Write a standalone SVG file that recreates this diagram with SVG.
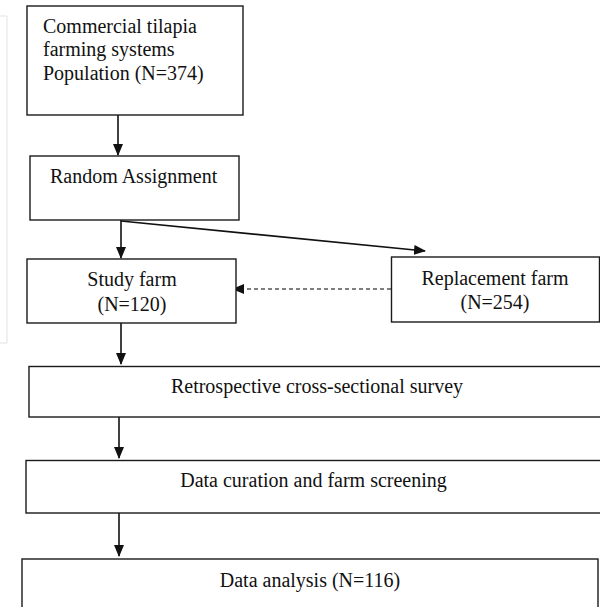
<svg xmlns="http://www.w3.org/2000/svg" width="600" height="607" viewBox="0 0 600 607">
<style>
.box{fill:#fff;stroke:#1a1a1a;stroke-width:1.4}
.t{font-family:"Liberation Serif","Times New Roman",serif;font-size:20px;fill:#111}
.c{text-anchor:middle}
.ln{stroke:#111;stroke-width:1.6;fill:none}
.dash{stroke:#555;stroke-width:1.6;stroke-dasharray:4 3;fill:none}
</style>
<defs>
<marker id="ah" markerWidth="12" markerHeight="10" refX="11" refY="5" orient="auto" markerUnits="userSpaceOnUse">
<path d="M0,0 L12,5 L0,10 Z" fill="#111"/>
</marker>
</defs>
<rect width="600" height="607" fill="#fff"/>
<path d="M0,16 H7 V343 H0" fill="none" stroke="#e2e2e2" stroke-width="1"/>
<g id="connectors">
<line class="ln" x1="118" y1="115" x2="118" y2="155" marker-end="url(#ah)"/>
<line class="ln" x1="121" y1="220" x2="121" y2="258" marker-end="url(#ah)"/>
<line class="ln" x1="121" y1="221" x2="425" y2="251" marker-end="url(#ah)"/>
<line class="dash" x1="391" y1="289" x2="233" y2="289" marker-end="url(#ah)"/>
<line class="ln" x1="121" y1="323" x2="121" y2="364" marker-end="url(#ah)"/>
<line class="ln" x1="119" y1="417" x2="119" y2="458" marker-end="url(#ah)"/>
<line class="ln" x1="119" y1="513" x2="119" y2="556" marker-end="url(#ah)"/>
</g>
<g id="population">
<rect class="box" x="27" y="6" width="216" height="109"/>
<text class="t" x="43" y="33">Commercial tilapia</text>
<text class="t" x="43" y="56">farming systems</text>
<text class="t" x="43" y="80">Population (N=374)</text>
</g>
<g id="random">
<rect class="box" x="30" y="156" width="209" height="64"/>
<text class="t" x="50" y="183">Random Assignment</text>
</g>
<g id="study">
<rect class="box" x="27" y="259" width="209" height="64"/>
<text class="t c" x="132" y="286">Study farm</text>
<text class="t c" x="132" y="311">(N=120)</text>
</g>
<g id="replacement">
<rect class="box" x="391.5" y="257" width="208" height="65"/>
<text class="t c" x="495" y="285">Replacement farm</text>
<text class="t c" x="495" y="309">(N=254)</text>
</g>
<g id="survey">
<rect class="box" x="29" y="366.5" width="573" height="50.5"/>
<text class="t c" x="317" y="393">Retrospective cross-sectional survey</text>
</g>
<g id="curation">
<rect class="box" x="26" y="460.5" width="576" height="52.5"/>
<text class="t c" x="313.5" y="487">Data curation and farm screening</text>
</g>
<g id="analysis">
<rect class="box" x="22" y="559" width="576" height="60"/>
<text class="t c" x="310" y="587">Data analysis (N=116)</text>
</g>
</svg>
